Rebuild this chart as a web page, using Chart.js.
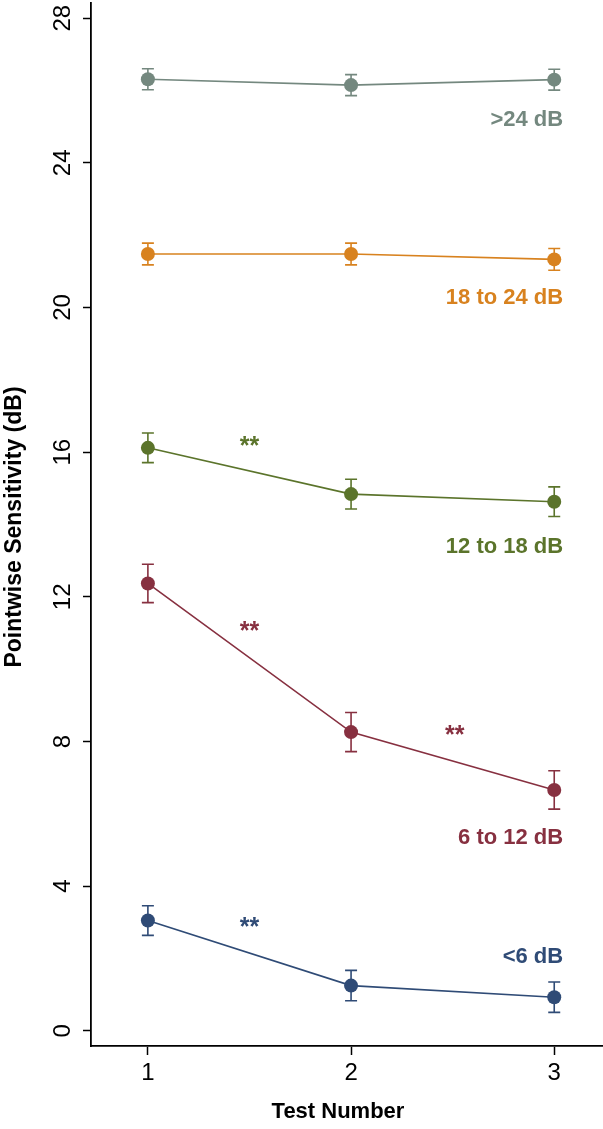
<!DOCTYPE html>
<html>
<head>
<meta charset="utf-8">
<script src="https://cdn.jsdelivr.net/npm/chart.js@4.4.1/dist/chart.umd.min.js"></script>
<style>
  html, body { margin: 0; padding: 0; background: #ffffff; }
  canvas { display: block; }
</style>
</head>
<body>
<canvas id="c" width="603" height="1129"></canvas>
<script>
// ---- data ----
const testNumbers = [1, 2, 3];
const seriesNames = ['>24 dB', '18 to 24 dB', '12 to 18 dB', '6 to 12 dB', '<6 dB'];
const above24 = [26.31, 26.15, 26.30];
const above24Err = [0.29, 0.29, 0.29];
const from18to24 = [21.48, 21.48, 21.33];
const from18to24Err = [0.30, 0.30, 0.30];
const from12to18 = [16.12, 14.84, 14.63];
const from12to18Err = [0.41, 0.41, 0.41];
const from6to12 = [12.37, 8.26, 6.66];
const from6to12Err = [0.53, 0.54, 0.53];
const below6 = [3.05, 1.25, 0.93];
const below6Err = [0.41, 0.42, 0.42];
const yTickValues = [0, 4, 8, 12, 16, 20, 24, 28];
const xTickValues = [1, 2, 3];
// significance markers: [x, y, series index]
const sigMarks = [[1.5, 16.28, 2], [1.5, 11.17, 3], [2.51, 8.29, 3], [1.5, 2.99, 4]];
// series label anchors (right aligned): [x, y]
const labelAnchors = [[3.044, 25.18], [3.044, 20.26], [3.044, 13.38], [3.044, 5.33], [3.044, 2.05]];

const colors = ['#74887f', '#d8821f', '#5b742b', '#873040', '#2f4b76'];
const seriesValues = [above24, from18to24, from12to18, from6to12, below6];
const seriesErrors = [above24Err, from18to24Err, from12to18Err, from6to12Err, below6Err];

const datasets = seriesValues.map((vals, i) => ({
  label: seriesNames[i],
  data: testNumbers.map((x, j) => ({ x: x, y: vals[j] })),
  errors: seriesErrors[i],
  borderColor: colors[i],
  backgroundColor: colors[i],
  pointBackgroundColor: colors[i],
  pointBorderColor: colors[i],
  pointRadius: 7,
  pointBorderWidth: 0,
  borderWidth: 1.6,
  tension: 0,
  fill: false
}));

const FONT = '"Liberation Sans", Arial, Helvetica, sans-serif';

const errorBars = {
  id: 'errorBars',
  beforeDatasetsDraw(chart) {
    const ctx = chart.ctx, xs = chart.scales.x, ys = chart.scales.y;
    ctx.save();
    chart.data.datasets.forEach(ds => {
      ctx.strokeStyle = ds.borderColor;
      ctx.lineWidth = 1.6;
      ds.data.forEach((p, j) => {
        const px = xs.getPixelForValue(p.x);
        const top = ys.getPixelForValue(p.y + ds.errors[j]);
        const bot = ys.getPixelForValue(p.y - ds.errors[j]);
        ctx.beginPath();
        ctx.moveTo(px, top); ctx.lineTo(px, bot);
        ctx.moveTo(px - 6, top); ctx.lineTo(px + 6, top);
        ctx.moveTo(px - 6, bot); ctx.lineTo(px + 6, bot);
        ctx.stroke();
      });
    });
    ctx.restore();
  }
};

const textLayer = {
  id: 'textLayer',
  afterDraw(chart) {
    const ctx = chart.ctx, xs = chart.scales.x, ys = chart.scales.y;
    ctx.save();
    // y tick labels (rotated)
    ctx.fillStyle = '#000';
    ctx.font = '24px ' + FONT;
    ctx.textAlign = 'center';
    ctx.textBaseline = 'middle';
    yTickValues.forEach(v => {
      const py = ys.getPixelForValue(v);
      ctx.save();
      ctx.translate(63, py);
      ctx.rotate(-Math.PI / 2);
      ctx.fillText(String(v), 0, 0);
      ctx.restore();
    });
    // axis titles
    ctx.font = 'bold 23px ' + FONT;
    ctx.save();
    ctx.translate(15, 527);
    ctx.rotate(-Math.PI / 2);
    ctx.fillText('Pointwise Sensitivity (dB)', 0, 0);
    ctx.restore();
    ctx.font = 'bold 22px ' + FONT;
    ctx.fillText('Test Number', 338, 1112);
    // series labels
    ctx.font = 'bold 22px ' + FONT;
    ctx.textAlign = 'right';
    labelAnchors.forEach((a, i) => {
      ctx.fillStyle = colors[i];
      ctx.fillText(seriesNames[i], xs.getPixelForValue(a[0]), ys.getPixelForValue(a[1]));
    });
    // significance markers
    ctx.font = 'bold 25px ' + FONT;
    ctx.textAlign = 'center';
    sigMarks.forEach(m => {
      ctx.fillStyle = colors[m[2]];
      ctx.fillText('**', xs.getPixelForValue(m[0]), ys.getPixelForValue(m[1]) + 5);
    });
    ctx.restore();
  }
};

new Chart(document.getElementById('c'), {
  type: 'line',
  data: { datasets: datasets },
  plugins: [errorBars, textLayer],
  options: {
    responsive: false,
    animation: false,
    layout: { autoPadding: false, padding: { top: 3, left: 0, right: 0, bottom: 0 } },
    plugins: { legend: { display: false }, tooltip: { enabled: false } },
    scales: {
      x: {
        type: 'linear',
        min: 0.72,
        max: 3.24,
        afterBuildTicks: s => { s.ticks = xTickValues.map(v => ({ value: v })); },
        afterFit: s => { s.height = 83; },
        grid: { drawOnChartArea: false, drawTicks: true, tickLength: 9, color: '#000', tickWidth: 1.5 },
        border: { display: true, color: '#000', width: 1.8 },
        ticks: { color: '#000', font: { family: FONT, size: 24 }, padding: 4, maxRotation: 0 }
      },
      y: {
        type: 'linear',
        min: -0.42,
        max: 28.42,
        afterBuildTicks: s => { s.ticks = yTickValues.map(v => ({ value: v })); },
        afterFit: s => { s.width = 91; },
        grid: { drawOnChartArea: false, drawTicks: true, tickLength: 8, color: '#000', tickWidth: 1.5 },
        border: { display: true, color: '#000', width: 1.8 },
        ticks: { display: false }
      }
    }
  }
});
</script>
</body>
</html>
